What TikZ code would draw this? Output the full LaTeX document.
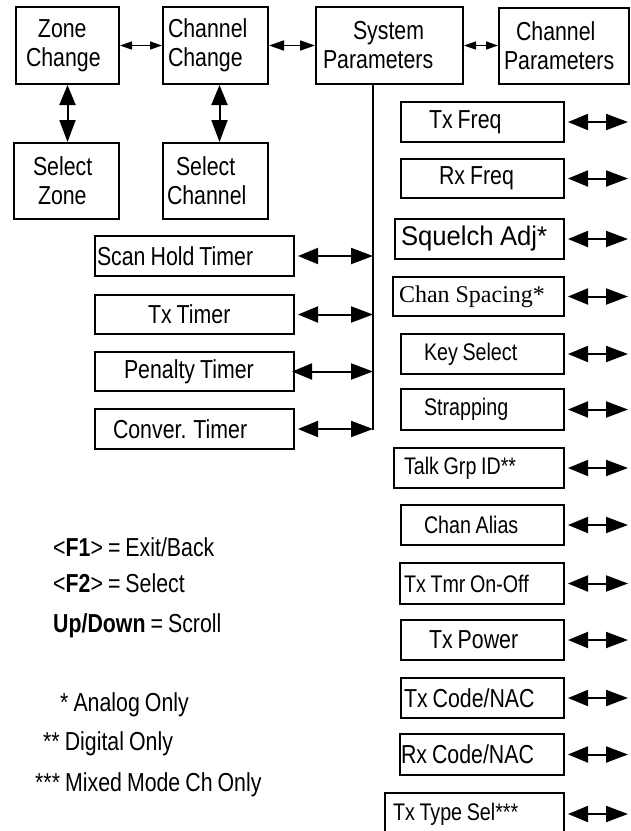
\documentclass[tikz,border=0pt]{standalone}
\usepackage{fontspec}
\setmainfont{Liberation Sans}[FakeStretch=0.82, WordSpace=0.85]
\newfontfamily\widefont{Liberation Sans}[FakeStretch=0.95, WordSpace=0.9]
\newfontfamily\seriffont{Liberation Serif}
\usetikzlibrary{arrows.meta}
\begin{document}
\begin{tikzpicture}[x=1pt,y=-1pt,
 box/.style={draw, line width=2pt, inner sep=0pt, align=flush left, anchor=north west, font=\fontsize{26pt}{29pt}\selectfont},
 sm/.style={font=\fontsize{24pt}{27pt}\selectfont},
 conn/.style={line width=2pt, {Triangle[length=20pt,width=16pt]}-{Triangle[length=22pt,width=16pt]}},
 connm/.style={line width=1.8pt, {Triangle[length=15pt,width=10pt]}-{Triangle[length=15pt,width=10pt]}},
 conns/.style={line width=1.6pt, {Triangle[length=12pt,width=8pt]}-{Triangle[length=12pt,width=8pt]}},
 legend/.style={anchor=base west, inner sep=0pt, font=\fontsize{26pt}{29pt}\selectfont}]
\useasboundingbox (0,0) rectangle (630,831);

% top row
\node[box, text width=103pt, minimum height=77pt] (zc) at (15,6) {\hspace*{22pt}Zone\\\hspace*{10pt}Change};
\node[box, text width=105pt, minimum height=77pt] (cc) at (162,6) {\hspace*{5pt}Channel\\\hspace*{5pt}Change};
\node[box, text width=147pt, minimum height=77pt] (sp) at (315,6) {\hspace*{37pt}System\\\hspace*{7pt}Parameters};
\node[box, text width=130pt, minimum height=76pt] (cp) at (498,7) {\hspace*{17pt}Channel\\\hspace*{5pt}Parameters};
\node[box, text width=105pt, minimum height=76pt] (sz) at (13,142) {\hspace*{19pt}Select\\\hspace*{24pt}Zone};
\node[box, text width=105pt, minimum height=76pt] (sc) at (162,142) {\hspace*{13pt}Select\\\hspace*{4pt}Channel};

\draw[conns] (zc.east) -- (cc.west);
\draw[connm] (cc.east) -- (sp.west);
\draw[conns] (sp.east) -- (sp.east -| cp.west);
\draw[conn] (zc.south) -- (zc.south |- sz.north);
\draw[conn] ([xshift=4pt]cc.south) -- ([xshift=4pt]cc.south |- sc.north);

% timers
\node[box, text width=199pt, minimum height=40pt] (sht) at (94,235) {\hspace*{2pt}Scan Hold Timer};
\node[box, text width=199pt, minimum height=39pt] (txt) at (94,294) {\hspace*{53pt}Tx Timer};
\node[box, text width=199pt, minimum height=39pt] (pt) at (94,351) {\hspace*{29pt}Penalty Timer};
\node[box, text width=199pt, minimum height=40pt] (ct) at (94,408) {\hspace*{18pt}Conver. Timer};

\coordinate (vb) at (373,430);
\draw[line width=2pt] (sp.south -| vb) -- (vb);
\draw[conn] ([xshift=3pt]sht.east) -- (sht.east -| vb);
\draw[conn] ([xshift=3pt]txt.east) -- (txt.east -| vb);
\draw[conn] ([xshift=-3pt]pt.east) -- (pt.east -| vb);
\draw[conn] ([xshift=3pt]ct.east) -- (ct.east -| vb);

% channel parameters column
\node[box, text width=163pt, minimum height=40pt] (txf) at (400,101) {\hspace*{28pt}Tx Freq};
\node[box, text width=163pt, minimum height=39pt] (rxf) at (400,158) {\hspace*{38pt}Rx Freq};
\node[box, text width=169pt, minimum height=40pt, font=\widefont\fontsize{27pt}{29pt}\selectfont] (sq) at (394,218) {\hspace*{6pt}Squelch Adj*};
\node[box, text width=171pt, minimum height=39pt, font=\seriffont\fontsize{24pt}{29pt}\selectfont] (cs) at (392,276) {\hspace*{6pt}Chan Spacing*};
\node[box, sm, text width=163pt, minimum height=40pt] (ks) at (400,333) {\hspace*{23pt}Key Select};
\node[box, sm, text width=163pt, minimum height=41pt] (st) at (400,388) {\hspace*{23pt}Strapping};
\node[box, sm, text width=170pt, minimum height=40pt] (tg) at (393,447) {\hspace*{10pt}Talk Grp ID**};
\node[box, sm, text width=163pt, minimum height=40pt] (ca) at (400,504) {\hspace*{23pt}Chan Alias};
\node[box, sm, text width=164pt, minimum height=41pt] (tt) at (399,562) {\hspace*{4pt}Tx Tmr On-Off};
\node[box, text width=163pt, minimum height=40pt] (tp) at (400,619) {\hspace*{28pt}Tx Power};
\node[box, text width=163pt, minimum height=40pt] (tc) at (400,677) {\hspace*{3pt}Tx Code/NAC};
\node[box, text width=164pt, minimum height=41pt] (rc) at (399,733) {\hspace*{1pt}Rx Code/NAC};
\node[box, sm, text width=179pt, minimum height=42pt] (ts) at (384,792) {\hspace*{8pt}Tx Type Sel***};

\coordinate (re) at (628,0);
\foreach \n in {txf,rxf,sq,cs,ks,st,tg,ca,tt,tp,tc,rc,ts}
  \draw[conn] ([xshift=3pt]\n.east) -- (\n.east -| re);

% legend
\node[legend] (f1) at (53,556) {<\textbf{F1}> = Exit/Back};
\node[legend] (f2) at (53,592) {<\textbf{F2}> = Select};
\node[legend] (ud) at (53,632) {\textbf{Up/Down} = Scroll};
\node[legend] (an) at (60,711) {* Analog Only};
\node[legend] (dg) at (43,750) {** Digital Only};
\node[legend] (mx) at (35,791) {*** Mixed Mode Ch Only};
\end{tikzpicture}
\end{document}
